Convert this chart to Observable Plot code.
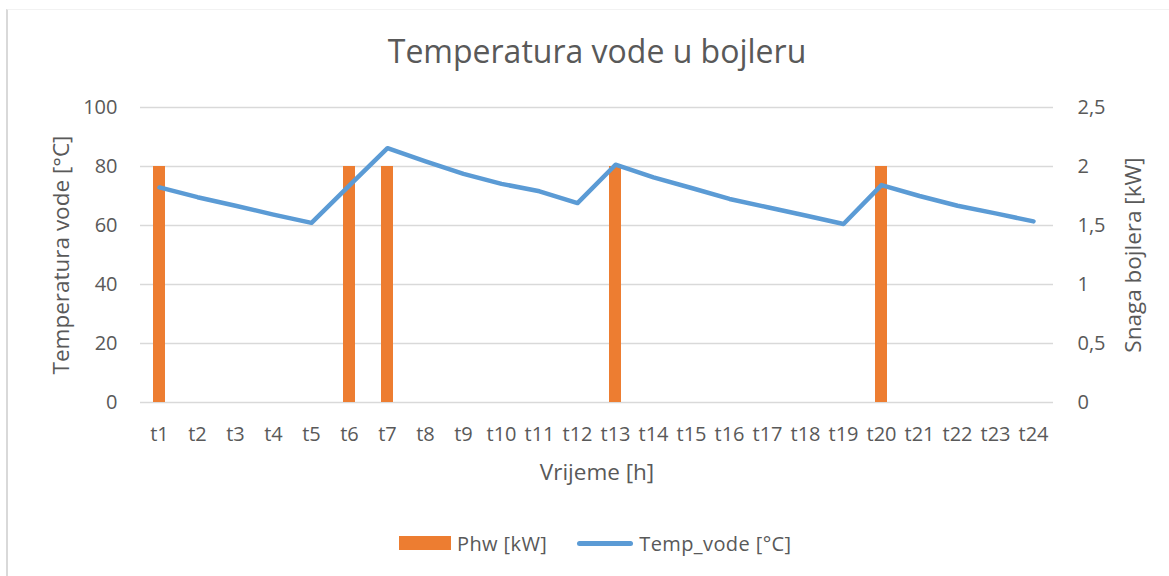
<!DOCTYPE html>
<html>
<head>
<meta charset="utf-8">
<script src="https://cdn.jsdelivr.net/npm/d3@7"></script>
<script src="https://cdn.jsdelivr.net/npm/@observablehq/plot@0.6"></script>
<style>
  html, body { margin: 0; padding: 0; background: #fff; }
  body { width: 1169px; height: 576px; position: relative; overflow: hidden; font-family: "Open Sans", sans-serif; }
  #frame { position: absolute; left: 6px; top: 9px; width: 1170px; height: 580px; border-left: 2px solid #d9d9d9; border-top: 1px solid #f2f2f2; box-sizing: border-box; }
  #chart { position: absolute; left: 0; top: 0; }
  #legend { position: absolute; top: 530px; left: 399px; height: 26px; display: flex; align-items: center; color: #595959; font-size: 20px; letter-spacing: 0.4px; }
  .sw-bar { width: 52px; height: 14px; background: #ED7D31; margin-right: 6px; }
  .sw-line { width: 56px; height: 5px; border-radius: 3px; background: #5B9BD5; margin-right: 6px; margin-left: 30px; }
</style>
</head>
<body>
<div id="frame"></div>
<div id="chart"></div>
<div id="legend">
  <div class="sw-bar"></div><span>Phw [kW]</span>
  <div class="sw-line"></div><span>Temp_vode [°C]</span>
</div>
<script>
// ---- data ----
const hours = ["t1","t2","t3","t4","t5","t6","t7","t8","t9","t10","t11","t12","t13","t14","t15","t16","t17","t18","t19","t20","t21","t22","t23","t24"];
const tempVode = [72.9, 69.6, 66.7, 63.7, 60.9, 73.6, 86.2, 81.7, 77.5, 74.1, 71.6, 67.6, 80.6, 76.3, 72.7, 69.0, 66.2, 63.4, 60.5, 73.7, 70.0, 66.7, 64.1, 61.4];
const phw = [2, 0, 0, 0, 0, 2, 2, 0, 0, 0, 0, 0, 2, 0, 0, 0, 0, 0, 0, 2, 0, 0, 0, 0];
const leftTicks = [0, 20, 40, 60, 80, 100];
const rightTickLabels = ["0", "0,5", "1", "1,5", "2", "2,5"];
const title = "Temperatura vode u bojleru";
const yTitle = "Temperatura vode [°C]";
const y2Title = "Snaga bojlera [kW]";
const xTitle = "Vrijeme [h]";

// right axis (kW) maps onto left axis (°C): 2.5 kW == 100 °C
const kwToC = 100 / 2.5;

const rows = hours.map((h, i) => ({h, temp: tempVode[i], phw: phw[i]}));
const textColor = "#595959";

const chart = Plot.plot({
  width: 1169,
  height: 576,
  marginTop: 107,
  marginBottom: 174,
  marginLeft: 140,
  marginRight: 116,
  style: {fontFamily: "Open Sans", fontSize: "20px", color: textColor, background: "transparent"},
  x: {type: "band", domain: hours, paddingInner: 0.684, paddingOuter: 0.342, label: null},
  y: {domain: [0, 100], label: null},
  marks: [
    Plot.gridY(leftTicks, {stroke: "#d9d9d9", strokeOpacity: 1, strokeWidth: 1.4}),
    Plot.barY(rows.filter(d => d.phw > 0), {x: "h", y: d => d.phw * kwToC, fill: "#ED7D31"}),
    Plot.lineY(rows, {x: "h", y: "temp", stroke: "#5B9BD5", strokeWidth: 4.5, strokeLinecap: "round", strokeLinejoin: "round"}),
    Plot.axisX({tickSize: 0, tickPadding: 24, fontSize: 20, label: null, fill: textColor}),
    Plot.axisY(leftTicks, {anchor: "left", tickSize: 0, tickPadding: 23, fontSize: 20, label: null, fill: textColor}),
    Plot.axisY(leftTicks, {anchor: "right", tickSize: 0, tickPadding: 24, fontSize: 20, label: null, fill: textColor,
      tickFormat: (d) => rightTickLabels[leftTicks.indexOf(d)]}),
    Plot.text([title], {frameAnchor: "top", textAnchor: "middle", lineAnchor: "middle", dy: -54.5, fontSize: 32, fill: textColor}),
    Plot.text([yTitle], {frameAnchor: "left", textAnchor: "middle", lineAnchor: "middle", dx: -79, rotate: -90, fontSize: 22.5, fill: textColor}),
    Plot.text([y2Title], {frameAnchor: "right", textAnchor: "middle", lineAnchor: "middle", dx: 80, rotate: -90, fontSize: 22.5, fill: textColor}),
    Plot.text([xTitle], {frameAnchor: "bottom", textAnchor: "middle", lineAnchor: "middle", dy: 70, fontSize: 22.5, fill: textColor})
  ]
});
document.getElementById("chart").appendChild(chart);
</script>
</body>
</html>
